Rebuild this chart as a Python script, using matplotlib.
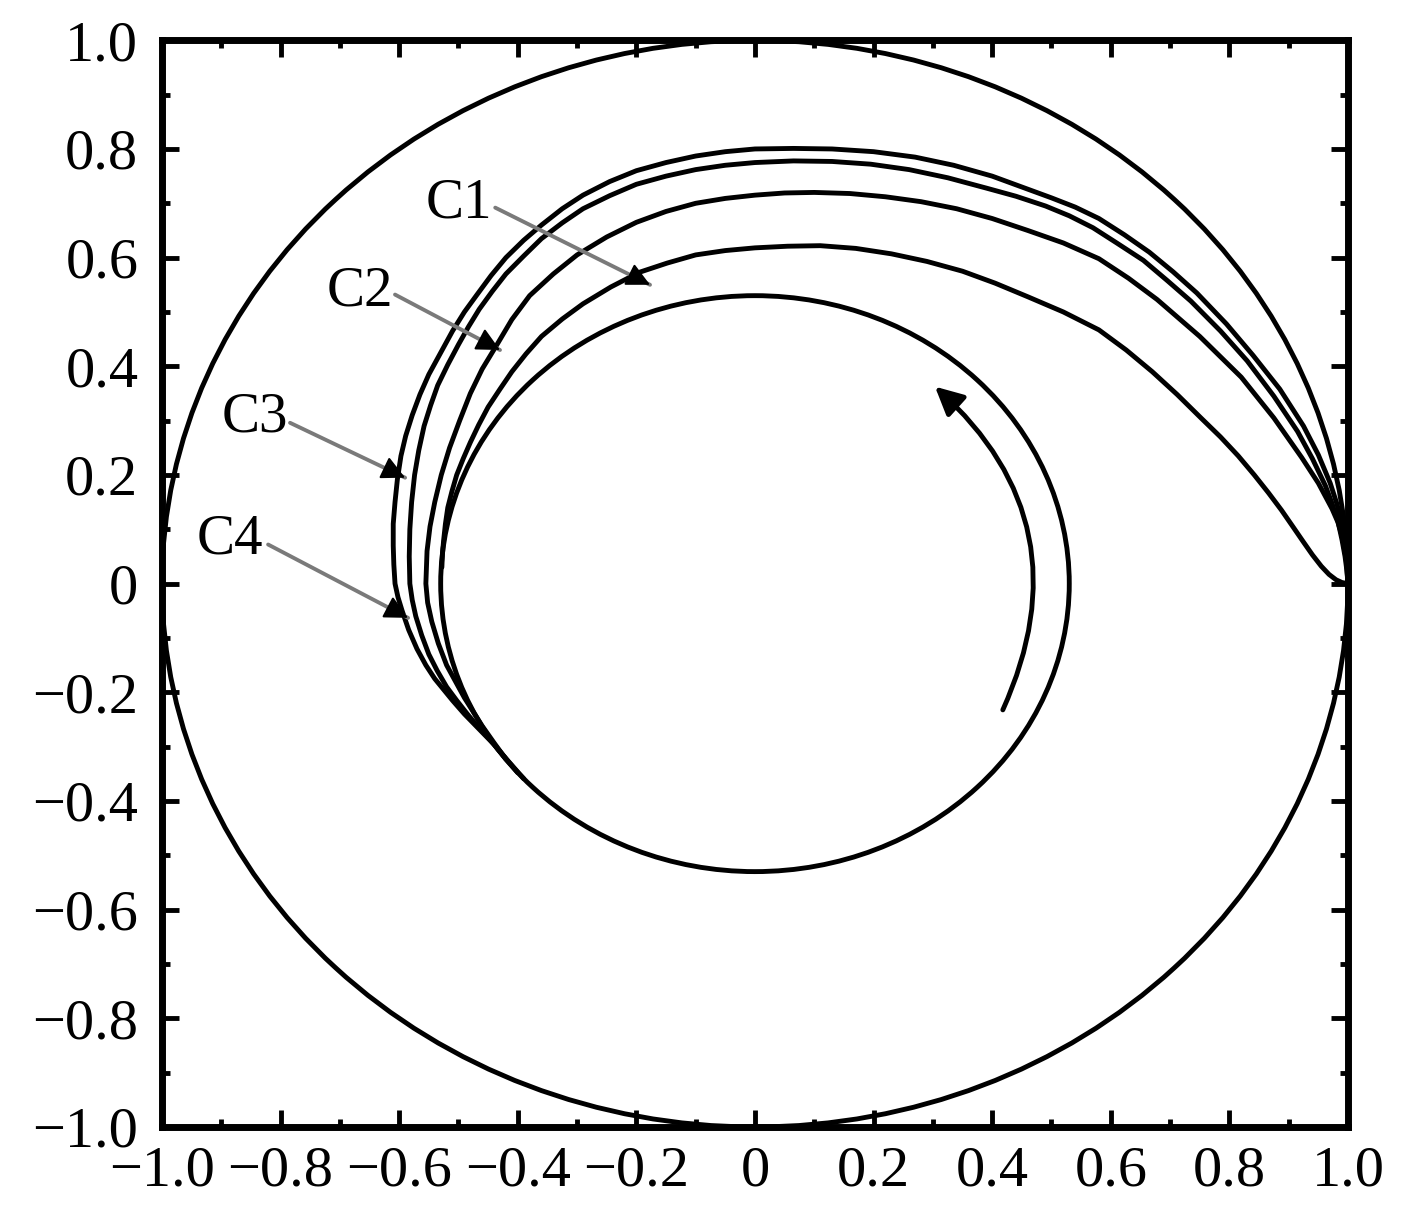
import matplotlib.pyplot as plt
from matplotlib.patches import Circle, FancyArrowPatch
from matplotlib.ticker import MultipleLocator, FuncFormatter

plt.rcParams['font.family'] = ['Liberation Serif', 'DejaVu Serif']

# boundary circle and inner limit cycle: centre x, centre y, radius
outer_circle = (0.0, 0.0, 1.0)
limit_cycle = (0.0, 0.0, 0.53)

# trajectories, from (1, 0) round the top to the left side
traj_a = [(1.0, 0.0), (0.999, 0.025), (0.998, 0.05), (0.995, 0.08), (0.99, 0.11), (0.981, 0.148),
          (0.97, 0.185), (0.95, 0.237), (0.925, 0.29), (0.885, 0.358), (0.84, 0.42), (0.795, 0.478),
          (0.745, 0.535), (0.705, 0.574), (0.665, 0.61), (0.623, 0.642), (0.58, 0.672), (0.54, 0.693),
          (0.50, 0.71), (0.45, 0.73), (0.40, 0.75), (0.335, 0.77), (0.27, 0.785), (0.20, 0.795),
          (0.13, 0.80), (0.065, 0.801), (0.0, 0.80), (-0.05, 0.795), (-0.10, 0.787), (-0.15, 0.775),
          (-0.20, 0.76), (-0.245, 0.74), (-0.29, 0.715), (-0.325, 0.69), (-0.36, 0.66), (-0.39, 0.632),
          (-0.42, 0.60), (-0.445, 0.567), (-0.47, 0.53), (-0.49, 0.50), (-0.51, 0.465), (-0.53, 0.425),
          (-0.55, 0.385), (-0.565, 0.348), (-0.578, 0.31), (-0.589, 0.272), (-0.597, 0.235),
          (-0.603, 0.192), (-0.607, 0.15), (-0.61, 0.11), (-0.61, 0.07), (-0.609, 0.035), (-0.607, 0.0),
          (-0.602, -0.025), (-0.595, -0.05), (-0.584, -0.085), (-0.57, -0.12), (-0.555, -0.15),
          (-0.54, -0.175), (-0.525, -0.195), (-0.51, -0.215), (-0.49, -0.24), (-0.465, -0.268),
          (-0.44, -0.296), (-0.415, -0.328), (-0.39, -0.359)]

traj_b = [(1.0, 0.0), (0.998, 0.025), (0.995, 0.05), (0.99, 0.08), (0.983, 0.115), (0.973, 0.148),
          (0.962, 0.18), (0.94, 0.23), (0.915, 0.28), (0.875, 0.345), (0.83, 0.41), (0.785, 0.465),
          (0.735, 0.52), (0.695, 0.558), (0.655, 0.595), (0.61, 0.627), (0.57, 0.655), (0.53, 0.677),
          (0.49, 0.695), (0.44, 0.713), (0.39, 0.728), (0.325, 0.747), (0.26, 0.762), (0.195, 0.772),
          (0.13, 0.777), (0.065, 0.778), (0.0, 0.775), (-0.05, 0.77), (-0.10, 0.762), (-0.15, 0.75),
          (-0.20, 0.735), (-0.245, 0.714), (-0.29, 0.69), (-0.325, 0.664), (-0.36, 0.635), (-0.39, 0.603),
          (-0.42, 0.57), (-0.443, 0.538), (-0.465, 0.505), (-0.483, 0.473), (-0.50, 0.44),
          (-0.518, 0.403), (-0.535, 0.365), (-0.547, 0.328), (-0.558, 0.29), (-0.567, 0.245),
          (-0.574, 0.20), (-0.579, 0.15), (-0.582, 0.10), (-0.583, 0.05), (-0.582, 0.0),
          (-0.578, -0.03), (-0.572, -0.06), (-0.562, -0.095), (-0.55, -0.13), (-0.536, -0.16),
          (-0.52, -0.19), (-0.503, -0.215), (-0.485, -0.24), (-0.468, -0.262), (-0.45, -0.283),
          (-0.425, -0.316), (-0.40, -0.348)]

traj_c = [(1.0, 0.0), (0.997, 0.045), (0.99, 0.088), (0.983, 0.113), (0.973, 0.138), (0.95, 0.185),
          (0.922, 0.232), (0.875, 0.305), (0.82, 0.38), (0.75, 0.455), (0.678, 0.523), (0.63, 0.562),
          (0.58, 0.598), (0.52, 0.627), (0.46, 0.65), (0.40, 0.672), (0.34, 0.69), (0.28, 0.703),
          (0.22, 0.712), (0.16, 0.718), (0.10, 0.72), (0.05, 0.719), (0.0, 0.715), (-0.05, 0.709),
          (-0.10, 0.70), (-0.15, 0.685), (-0.20, 0.665), (-0.25, 0.638), (-0.30, 0.605), (-0.34, 0.57),
          (-0.38, 0.53), (-0.41, 0.486), (-0.435, 0.44), (-0.46, 0.395), (-0.48, 0.35), (-0.498, 0.30),
          (-0.515, 0.25), (-0.529, 0.20), (-0.54, 0.15), (-0.548, 0.105), (-0.553, 0.06), (-0.555, 0.0),
          (-0.552, -0.035), (-0.545, -0.07), (-0.534, -0.11), (-0.52, -0.15), (-0.505, -0.18),
          (-0.49, -0.21), (-0.475, -0.236), (-0.46, -0.262), (-0.44, -0.293), (-0.42, -0.323)]

traj_d = [(1.0, 0.0), (0.99, 0.002), (0.98, 0.007), (0.968, 0.017), (0.955, 0.032), (0.94, 0.053),
          (0.924, 0.078), (0.907, 0.105), (0.888, 0.135), (0.866, 0.167), (0.842, 0.20), (0.815, 0.235),
          (0.785, 0.27), (0.752, 0.305), (0.712, 0.348), (0.67, 0.39),
          (0.626, 0.43), (0.58, 0.467), (0.52, 0.50), (0.46, 0.528), (0.405, 0.553), (0.35, 0.575),
          (0.29, 0.593), (0.23, 0.607), (0.17, 0.617), (0.11, 0.622), (0.055, 0.621), (0.0, 0.618),
          (-0.05, 0.613), (-0.10, 0.605), (-0.148, 0.59), (-0.195, 0.573), (-0.243, 0.546),
          (-0.29, 0.515), (-0.325, 0.487), (-0.36, 0.455), (-0.386, 0.423), (-0.41, 0.39),
          (-0.43, 0.358), (-0.45, 0.325), (-0.466, 0.292), (-0.48, 0.26), (-0.492, 0.23),
          (-0.503, 0.20), (-0.511, 0.17), (-0.518, 0.14), (-0.522, 0.11), (-0.525, 0.08),
          (-0.527, 0.055), (-0.528, 0.03)]

trajectories = [traj_a, traj_b, traj_c, traj_d]

# labels with their pointer arrows
labels = ['C1', 'C2', 'C3', 'C4']
label_pos = [(-0.50, 0.70), (-0.666, 0.537), (-0.843, 0.305), (-0.885, 0.081)]
arrow_from = [(-0.438, 0.692), (-0.607, 0.532), (-0.784, 0.296), (-0.821, 0.072)]
arrow_to = [(-0.177, 0.55), (-0.43, 0.43), (-0.59, 0.195), (-0.585, -0.063)]

# direction of rotation arrow inside the cycle
rot_start = (0.416, -0.237)
rot_end = (0.30, 0.366)

fig = plt.figure(figsize=(14.17, 12.21), dpi=100)
ax = fig.add_axes([0.1143, 0.077, 0.8370, 0.890])

lw = 3.5
for cx, cy, r in [outer_circle, limit_cycle]:
    ax.add_patch(Circle((cx, cy), r, fill=False, ec='black', lw=lw))
for pts in trajectories:
    xs = [p[0] for p in pts]
    ys = [p[1] for p in pts]
    ax.plot(xs, ys, color='black', lw=lw, solid_capstyle='round', solid_joinstyle='round')

for text, pos, a0, a1 in zip(labels, label_pos, arrow_from, arrow_to):
    ax.text(pos[0], pos[1], text, fontsize=41, ha='center', va='center')
    ax.annotate('', xy=a1, xytext=a0,
                arrowprops=dict(arrowstyle='-', color='#7a7a7a', lw=2.8, shrinkA=0, shrinkB=0))
    # short black head right at the tip
    hx = a1[0] - 0.12 * (a1[0] - a0[0])
    hy = a1[1] - 0.12 * (a1[1] - a0[1])
    ax.annotate('', xy=a1, xytext=(hx, hy),
                arrowprops=dict(arrowstyle='-|>', color='black', lw=1.5,
                                mutation_scale=36, shrinkA=0, shrinkB=0))

ax.add_patch(FancyArrowPatch(rot_start, rot_end, connectionstyle='arc3,rad=0.37',
                             arrowstyle='-|>', mutation_scale=42, color='black', lw=lw))

ax.set_xlim(-1, 1)
ax.set_ylim(-1, 1)

def fmt(v, pos):
    if abs(v) < 1e-9:
        return '0'
    return ('%.1f' % v).replace('-', '\u2212')

for axis in [ax.xaxis, ax.yaxis]:
    axis.set_major_locator(MultipleLocator(0.2))
    axis.set_minor_locator(MultipleLocator(0.1))
    axis.set_major_formatter(FuncFormatter(fmt))

ax.tick_params(which='both', direction='in', top=True, right=True, width=3.5, labelsize=42)
ax.tick_params(which='major', length=12)
ax.tick_params(which='minor', length=6)
ax.tick_params(axis='y', pad=17)
ax.tick_params(axis='x', pad=13)
for s in ax.spines.values():
    s.set_linewidth(5)

fig.savefig('out.png', dpi=100)
